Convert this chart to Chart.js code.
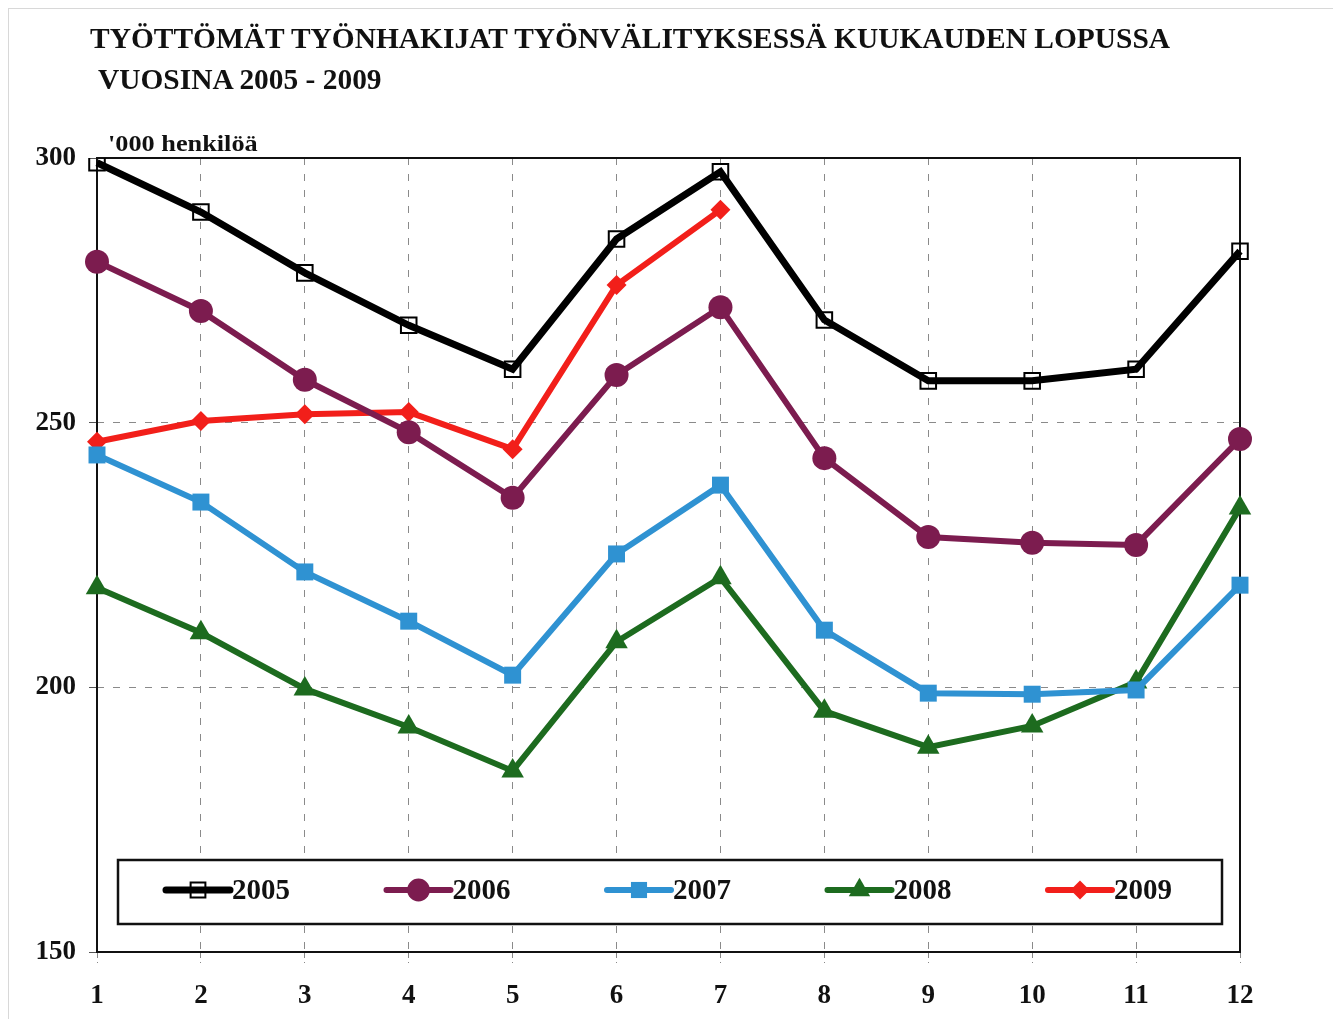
<!DOCTYPE html>
<html>
<head>
<meta charset="utf-8">
<script src="https://cdn.jsdelivr.net/npm/chart.js@4.4.1/dist/chart.umd.min.js"></script>
<style>
  body { margin: 0; background: #fff; }
  #wrap { position: relative; width: 1333px; height: 1019px; overflow: hidden; }
  #frame { position: absolute; left: 8px; top: 8px; right: 0; bottom: 0; border-left: 1px solid #d8d8d8; border-top: 1px solid #d8d8d8; }
  .txt { position: absolute; font-family: 'Liberation Serif', 'Times New Roman', serif; font-weight: bold; color: #111; line-height: 1; white-space: nowrap; transform-origin: 0 0; }
  #title1 { left: 90px; top: 24px; font-size: 29px; }
  #title2 { left: 98px; top: 65px; font-size: 29px; }
  #unit { left: 108px; top: 131px; font-size: 24px; }
  canvas { position: absolute; left: 0; top: 0; }
</style>
</head>
<body>
<div id="wrap">
  <div id="frame"></div>
  <canvas id="chart" width="1333" height="1019"></canvas>
  <div class="txt" id="title1" data-w="1080">TYÖTTÖMÄT TYÖNHAKIJAT TYÖNVÄLITYKSESSÄ KUUKAUDEN LOPUSSA</div>
  <div class="txt" id="title2" data-w="284">VUOSINA 2005 - 2009</div>
  <div class="txt" id="unit" data-w="150">'000 henkilöä</div>
</div>
<script>
// kuukaudet ja sarjat (tuhatta henkilöä)
const months = ['1', '2', '3', '4', '5', '6', '7', '8', '9', '10', '11', '12']
const y2005 = [299.1, 289.8, 278.3, 268.4, 260.1, 284.7, 297.4, 269.4, 257.9, 257.9, 260.1, 282.4]
const y2006 = [280.4, 271.1, 258.1, 248.2, 235.8, 259.0, 271.8, 243.3, 228.4, 227.3, 226.9, 246.9]
const y2007 = [243.9, 235.0, 221.8, 212.5, 202.3, 225.2, 238.2, 210.8, 198.9, 198.7, 199.5, 219.3]
const y2008 = [218.8, 210.3, 199.7, 192.5, 184.2, 208.6, 220.7, 195.5, 188.7, 192.7, 201.0, 233.9]
const y2009 = [246.4, 250.3, 251.6, 252.0, 245.0, 276.0, 290.2]
const yTicks = [150, 200, 250, 300]

// fit the html titles to the width they have in the original
document.querySelectorAll('.txt').forEach(el => {
  el.style.transform = `scaleX(${el.dataset.w / el.offsetWidth})`
})

Chart.defaults.font.family = '\'Liberation Serif\', \'Times New Roman\', serif'
Chart.defaults.font.weight = 'bold'
Chart.defaults.color = '#111'

function series(label, data, color, style, radius, extra) {
  return Object.assign({
    label: label,
    data: data,
    borderColor: color,
    borderWidth: 6,
    pointStyle: style,
    pointRadius: radius,
    pointHoverRadius: radius,
    pointBackgroundColor: color,
    pointBorderColor: color,
    pointBorderWidth: 0,
    tension: 0
  }, extra || {})
}

const plotFrame = {
  id: 'plotFrame',
  beforeDatasetsDraw(chart) {
    const { ctx, chartArea: a } = chart
    ctx.save()
    ctx.strokeStyle = '#111'
    ctx.lineWidth = 2
    ctx.strokeRect(a.left, a.top, a.right - a.left, a.bottom - a.top)
    ctx.restore()
  }
}

const boxLegend = {
  id: 'boxLegend',
  afterDatasetsDraw(chart) {
    const { ctx, chartArea: a } = chart
    const x0 = a.left + 21
    const y0 = a.bottom - 92
    const w = a.right - a.left - 39
    const h = 64
    ctx.save()
    ctx.fillStyle = '#fff'
    ctx.fillRect(x0, y0, w, h)
    ctx.strokeStyle = '#111'
    ctx.lineWidth = 2.5
    ctx.strokeRect(x0, y0, w, h)
    chart.data.datasets.forEach((ds, i) => {
      const lx = x0 + 48 + i * 220.5
      const cy = y0 + 30
      ctx.strokeStyle = ds.borderColor
      ctx.lineWidth = ds.borderWidth
      ctx.lineCap = 'round'
      ctx.beginPath()
      ctx.moveTo(lx, cy)
      ctx.lineTo(lx + 64, cy)
      ctx.stroke()
      ctx.lineCap = 'butt'
      ctx.fillStyle = ds.pointBackgroundColor
      ctx.strokeStyle = ds.pointBorderColor
      ctx.lineWidth = ds.pointBorderWidth
      Chart.helpers.drawPoint(ctx, {
        pointStyle: ds.pointStyle,
        radius: ds.pointRadius * 0.95,
        rotation: 0,
        borderWidth: ds.pointBorderWidth
      }, lx + 32, cy)
      ctx.fillStyle = '#111'
      ctx.font = 'bold 29px \'Liberation Serif\', serif'
      ctx.textBaseline = 'middle'
      ctx.fillText(ds.label, lx + 66, cy + 2)
    })
    ctx.restore()
  }
}

new Chart(document.getElementById('chart'), {
  type: 'line',
  data: {
    labels: months,
    datasets: [
      series('2005', y2005, '#000', 'rect', 11, {
        borderWidth: 7,
        pointBackgroundColor: 'rgba(0,0,0,0)',
        pointBorderColor: '#000',
        pointBorderWidth: 2
      }),
      series('2006', y2006, '#7c1c4f', 'circle', 12),
      series('2007', y2007, '#2f92d2', 'rect', 12),
      series('2008', y2008, '#1d6b1f', 'triangle', 13),
      series('2009', y2009, '#f21f1a', 'rectRot', 10)
    ]
  },
  options: {
    responsive: false,
    animation: false,
    layout: {
      padding: { left: 0, top: 158, right: 93, bottom: 0 }
    },
    scales: {
      x: {
        type: 'category',
        offset: false,
        afterFit: (axis) => { axis.height = 67 },
        border: { display: false, dash: [7, 9] },
        grid: {
          color: '#8a8a8a',
          lineWidth: 1,
          tickLength: 11,
          tickColor: '#888',
          tickBorderDash: [6, 4]
        },
        ticks: {
          padding: 17,
          maxRotation: 0,
          font: { size: 27, weight: 'bold' },
          color: '#111'
        }
      },
      y: {
        min: 150,
        max: 300,
        afterFit: (axis) => { axis.width = 97 },
        afterBuildTicks: (axis) => { axis.ticks = yTicks.map(v => ({ value: v })) },
        border: { display: false, dash: [7, 9] },
        grid: {
          color: '#8a8a8a',
          lineWidth: 1,
          tickLength: 8,
          tickColor: '#555',
          tickBorderDash: []
        },
        ticks: {
          padding: 13,
          font: { size: 27, weight: 'bold' },
          color: '#111'
        }
      }
    },
    plugins: {
      legend: { display: false },
      tooltip: { enabled: false }
    }
  },
  plugins: [plotFrame, boxLegend]
})
</script>
</body>
</html>
